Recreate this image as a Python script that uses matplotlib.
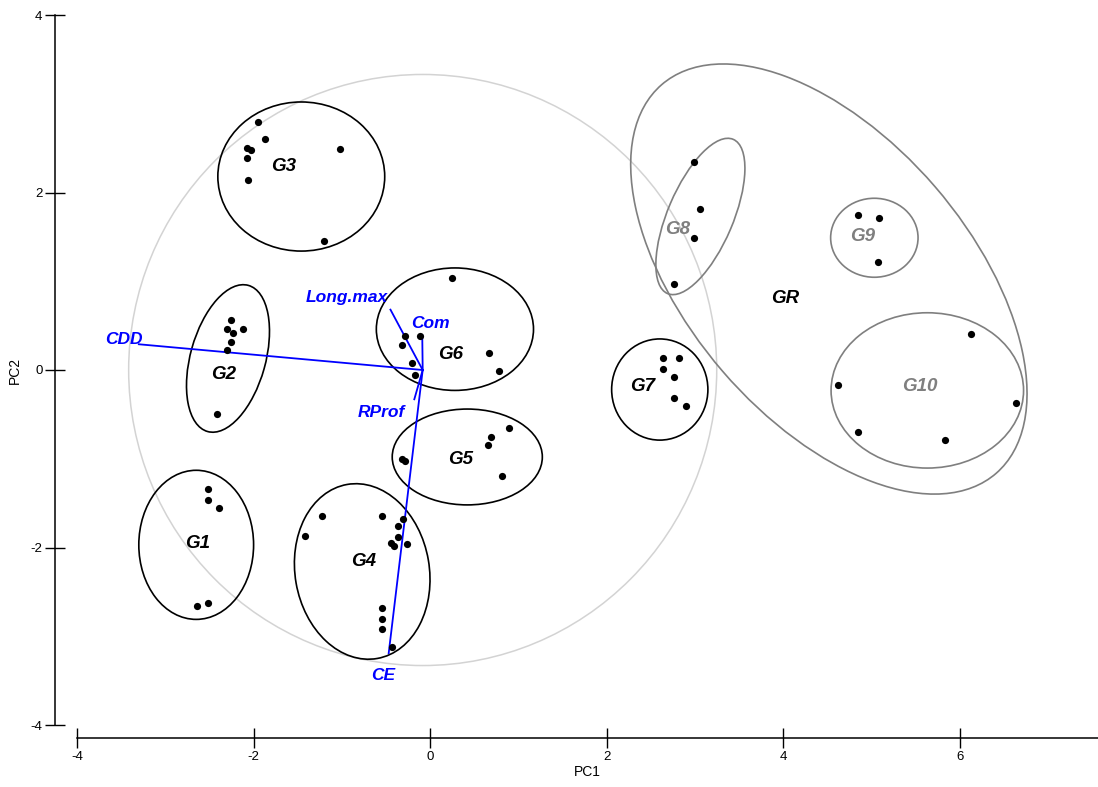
import matplotlib
matplotlib.use("Agg")
import matplotlib.pyplot as plt
from matplotlib.patches import Ellipse, Circle

plt.rcParams['font.family'] = ['Liberation Sans', 'DejaVu Sans']
plt.rcParams['axes.unicode_minus'] = False

# scores (PC1, PC2) per group
grupo = (["G1"] * 5 + ["G2"] * 7 + ["G3"] * 8 + ["G4"] * 13 + ["G5"] * 6 +
         ["G6"] * 8 + ["G7"] * 6 + ["G8"] * 4 + ["G9"] * 3 + ["G10"] * 5)
pc1 = [-2.52, -2.52, -2.39, -2.64, -2.52,
       -2.26, -2.30, -2.23, -2.12, -2.26, -2.30, -2.41,
       -1.95, -1.87, -2.07, -2.03, -2.07, -2.06, -1.02, -1.20,
       -1.23, -1.42, -0.55, -0.31, -0.37, -0.37, -0.44, -0.41, -0.26, -0.55, -0.55, -0.55, -0.43,
       0.89, 0.69, 0.66, -0.32, -0.29, 0.81,
       0.25, -0.29, -0.12, -0.32, -0.21, -0.17, 0.67, 0.78,
       2.64, 2.82, 2.64, 2.76, 2.76, 2.90,
       2.99, 3.05, 2.99, 2.76,
       4.85, 5.08, 5.07,
       6.12, 4.62, 6.63, 4.85, 5.83]
pc2 = [-1.34, -1.46, -1.56, -2.66, -2.62,
       0.56, 0.46, 0.42, 0.46, 0.32, 0.23, -0.50,
       2.79, 2.60, 2.50, 2.48, 2.39, 2.14, 2.49, 1.45,
       -1.65, -1.87, -1.64, -1.68, -1.76, -1.88, -1.95, -1.98, -1.96, -2.68, -2.80, -2.92, -3.12,
       -0.65, -0.75, -0.85, -1.00, -1.03, -1.19,
       1.04, 0.38, 0.38, 0.28, 0.08, -0.06, 0.19, -0.01,
       0.13, 0.13, 0.01, -0.08, -0.31, -0.41,
       2.34, 1.81, 1.49, 0.97,
       1.75, 1.71, 1.22,
       0.41, -0.17, -0.37, -0.70, -0.79]

# group ellipses
ell_nomes = ["G1", "G2", "G3", "G4", "G5", "G6", "G7", "G8", "G9", "G10", "GR"]
ell_cx = [-2.65, -2.29, -1.46, -0.77, 0.42, 0.28, 2.60, 3.06, 5.03, 5.63, 4.515]
ell_cy = [-1.97, 0.13, 2.18, -2.27, -0.98, 0.46, -0.22, 1.73, 1.49, -0.23, 1.025]
ell_w = [1.30, 0.85, 1.89, 1.52, 1.70, 1.78, 1.09, 0.74, 0.99, 2.18, 3.18]
ell_h = [1.68, 1.71, 1.68, 1.99, 1.08, 1.38, 1.14, 1.89, 0.89, 1.75, 5.79]
ell_ang = [0, -15.7, 0, 9.9, 0, 0, 0, -23.2, 0, 0, 40.9]
lab_x = [-2.64, -2.34, -1.66, -0.76, 0.34, 0.23, 2.41, 2.80, 4.90, 5.55, 4.02]
lab_y = [-1.95, -0.05, 2.29, -2.16, -1.01, 0.17, -0.19, 1.58, 1.50, -0.19, 0.81]
cinza = ["G8", "G9", "G10"]

# loadings (vectors)
origem = (-0.085, 0.0)
raio = 3.33
var_nomes = ["CDD", "Long.max", "Com", "RProf", "CE"]
var_x = [-3.30, -0.45, -0.09, -0.18, -0.47]
var_y = [0.29, 0.68, 0.39, -0.33, -3.19]
var_lx = [-3.47, -0.94, 0.00, -0.55, -0.53]
var_ly = [0.34, 0.82, 0.52, -0.48, -3.44]

fig = plt.figure(figsize=(10.98, 7.87), dpi=100)
ax = fig.add_axes([77 / 1098, 62 / 787, 1021 / 1098, 710 / 787])
ax.set_xlim(-4, 7.563)
ax.set_ylim(-4, 4)

ax.add_patch(Circle(origem, raio, fill=False, ec="#d3d3d3", lw=1.1))

for i, nome in enumerate(ell_nomes):
    cor = "black" if nome in ["G1", "G2", "G3", "G4", "G5", "G6", "G7"] else "#7f7f7f"
    ax.add_patch(Ellipse((ell_cx[i], ell_cy[i]), ell_w[i], ell_h[i], angle=ell_ang[i],
                         fill=False, ec=cor, lw=1.2))
    tcor = "#7f7f7f" if nome in cinza else "black"
    ax.text(lab_x[i], lab_y[i], nome, color=tcor, fontsize=13.5, fontweight="bold",
            fontstyle="italic", ha="center", va="center")

for i, nome in enumerate(var_nomes):
    ax.plot([origem[0], var_x[i]], [origem[1], var_y[i]], color="blue", lw=1.3)
    ax.text(var_lx[i], var_ly[i], nome, color="blue", fontsize=12.5, fontweight="bold",
            fontstyle="italic", ha="center", va="center")

ax.scatter(pc1, pc2, s=27, color="black", zorder=3, linewidths=0)

for s in ["top", "right"]:
    ax.spines[s].set_visible(False)
ax.spines["left"].set_position(("outward", 15.8))
ax.spines["bottom"].set_position(("outward", 9.4))
ax.spines["left"].set_bounds(-4, 4)
ax.spines["bottom"].set_bounds(-4, 7.563)
ax.spines["left"].set_linewidth(1.1)
ax.spines["bottom"].set_linewidth(1.1)
ax.set_xticks([-4, -2, 0, 2, 4, 6])
ax.set_yticks([-4, -2, 0, 2, 4])
ax.tick_params(direction="inout", length=14, width=1, labelsize=9.5, pad=2)
ax.set_xlabel("PC1", fontsize=10, labelpad=2)
ax.set_ylabel("PC2", fontsize=10, labelpad=6)

fig.savefig("out.png", dpi=100)
